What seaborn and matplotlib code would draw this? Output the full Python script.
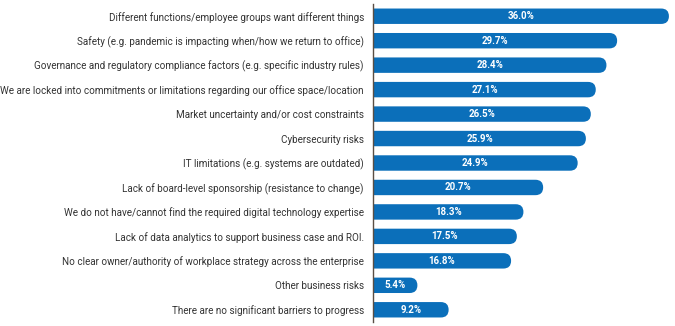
import matplotlib
matplotlib.use("Agg")
import matplotlib.pyplot as plt
from matplotlib.patches import FancyBboxPatch
from matplotlib.transforms import IdentityTransform
import seaborn as sns
import pandas as pd

categories = [
    "Different functions/employee groups want different things",
    "Safety (e.g. pandemic is impacting when/how we return to office)",
    "Governance and regulatory compliance factors (e.g. specific industry rules)",
    "We are locked into commitments or limitations regarding our office space/location",
    "Market uncertainty and/or cost constraints",
    "Cybersecurity risks",
    "IT limitations (e.g. systems are outdated)",
    "Lack of board-level sponsorship (resistance to change)",
    "We do not have/cannot find the required digital technology expertise",
    "Lack of data analytics to support business case and ROI.",
    "No clear owner/authority of workplace strategy across the enterprise",
    "Other business risks",
    "There are no significant barriers to progress",
]
values = [36.0, 29.7, 28.4, 27.1, 26.5, 25.9, 24.9, 20.7, 18.3, 17.5, 16.8, 5.4, 9.2]

df = pd.DataFrame({"category": categories, "value": values})

sns.set_theme(style="white")
plt.rcParams["font.family"] = ["Roboto", "DejaVu Sans"]

W, H = 675, 326
fig = plt.figure(figsize=(W / 100, H / 100), dpi=100)
ax = fig.add_axes([373 / W, 4 / H, 302 / W, 318 / H])

color = "#0b6fba"
sns.barplot(data=df, x="value", y="category", color=color, saturation=1,
            width=0.63, ax=ax, orient="h")

px_per_unit_x = 8.22
ax.set_xlim(0, 302 / px_per_unit_x)
ax.set_ylim(12.5, -0.5)

ax.set_xlabel("")
ax.set_ylabel("")
ax.set_xticks([])
for s in ["top", "right", "bottom"]:
    ax.spines[s].set_visible(False)
ax.spines["left"].set_color("#5a4e44")
ax.spines["left"].set_linewidth(1.0)
ax.tick_params(axis="y", length=0, pad=6.5, labelsize=7.1, labelcolor="#333333")

fig.canvas.draw()
bars = list(ax.patches)
for p, v in zip(bars, values):
    bb = p.get_window_extent()
    r = bb.height / 2
    p.set_visible(False)
    fp = FancyBboxPatch((bb.x0 - 2 * r, bb.y0), bb.width + 2 * r, bb.height,
                        boxstyle=f"round,pad=0,rounding_size={r}",
                        transform=IdentityTransform(), facecolor=color,
                        edgecolor="none", zorder=2)
    fp.set_clip_box(ax.bbox)
    fp.set_clip_on(True)
    ax.add_artist(fp)
    ax.text(v / 2, p.get_y() + p.get_height() / 2, f"{v:.1f}%",
            ha="center", va="center", color="white", fontsize=7,
            fontweight="bold", zorder=3)

fig.savefig("out.png", dpi=100)
